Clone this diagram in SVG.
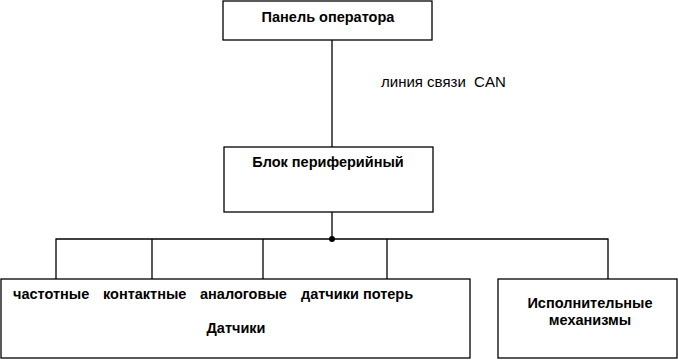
<svg xmlns="http://www.w3.org/2000/svg" width="678" height="360" viewBox="0 0 678 360">
<style>
.box{fill:#fff;stroke:#000;stroke-width:1.3}
.ln{fill:none;stroke:#000;stroke-width:1.3}
.b{font-family:"Liberation Sans",Arial,sans-serif;font-weight:bold;font-size:14.5px;fill:#000}
.r{font-family:"Liberation Sans",Arial,sans-serif;font-size:15px;fill:#000;white-space:pre}
</style>
<rect width="678" height="360" fill="#fff"/>
<g id="connectors">
<line class="ln" x1="332" y1="40" x2="332" y2="147"/>
<line class="ln" x1="332" y1="212" x2="332" y2="239"/>
<polyline class="ln" points="56,279 56,239 608,239 608,279"/>
<line class="ln" x1="152" y1="239" x2="152" y2="279"/>
<line class="ln" x1="263" y1="239" x2="263" y2="279"/>
<line class="ln" x1="387" y1="239" x2="387" y2="279"/>
<circle cx="332" cy="239" r="3" fill="#000"/>
<text class="r" x="381" y="87" xml:space="preserve">линия связи  CAN</text>
</g>
<g id="panel">
<rect class="box" x="223" y="1" width="209" height="39"/>
<text class="b" x="328" y="22" text-anchor="middle">Панель оператора</text>
</g>
<g id="block">
<rect class="box" x="224" y="147" width="209" height="65"/>
<text class="b" x="328" y="167" text-anchor="middle">Блок периферийный</text>
</g>
<g id="sensors">
<rect class="box" x="1" y="279" width="469" height="79"/>
<text class="b" x="13" y="299">частотные</text>
<text class="b" x="103" y="299">контактные</text>
<text class="b" x="200" y="299">аналоговые</text>
<text class="b" x="301" y="299">датчики потерь</text>
<text class="b" x="236" y="333" text-anchor="middle">Датчики</text>
</g>
<g id="actuators">
<rect class="box" x="498" y="279" width="179" height="79"/>
<text class="b" x="590" y="308" text-anchor="middle">Исполнительные</text>
<text class="b" x="590" y="325" text-anchor="middle">механизмы</text>
</g>
</svg>
